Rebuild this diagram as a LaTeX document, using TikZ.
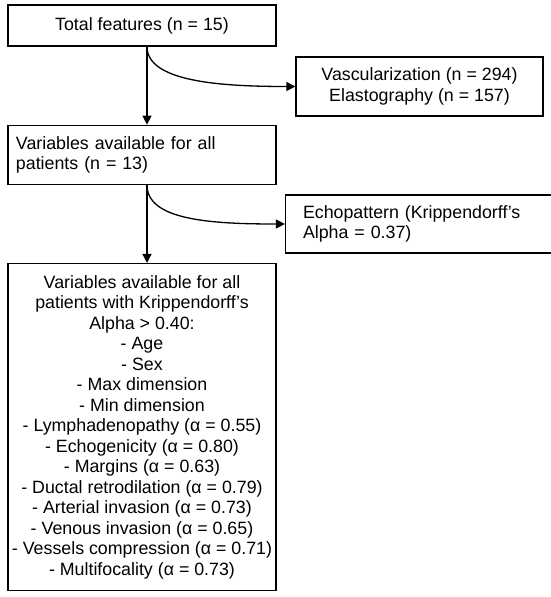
\documentclass[tikz,border=0pt]{standalone}
\usepackage{fontspec}
\setmainfont{Liberation Sans}
\usetikzlibrary{positioning,arrows.meta}
\hyphenpenalty=10000
\tikzset{
	caja/.style={rectangle, draw=black, line width=1.3pt, fill=white,
		font=\fontsize{17.8}{20.5}\selectfont, minimum width=268pt, align=center, inner xsep=2pt},
	cajaizq/.style={caja, text width=252pt, inner xsep=8pt, align=left},
	cajaexc/.style={caja, minimum width=247pt},
	cajaexcizq/.style={caja, text width=233pt, inner xsep=7pt, align=left},
	flecha/.style={-{Triangle[length=9pt,width=9pt]}, line width=1.3pt}
}

\begin{document}
\begin{tikzpicture}[x=1pt, y=1pt]
			\useasboundingbox (0,0) rectangle (550,-597);
			
			\node[caja, minimum height=41pt] (total) at (142,-25.5) {Total features (n = 15)};
			\node[cajaizq, minimum height=59pt, below=78pt of total] (avail) {Variables available for all\\patients (n = 13)};
			\node[caja, minimum height=327pt, below=78pt of avail] (final) {Variables available for all\\patients with Krippendorff’s\\Alpha > 0.40:\\- Age\\- Sex\\- Max dimension\\- Min dimension\\- Lymphadenopathy (α = 0.55)\\- Echogenicity (α = 0.80)\\- Margins (α = 0.63)\\- Ductal retrodilation (α = 0.79)\\- Arterial invasion (α = 0.73)\\- Venous invasion (α = 0.65)\\- Vessels compression (α = 0.71)\\- Multifocality (α = 0.73)};
			
			\node[cajaexc, minimum height=59pt] (vasc) at (419.5,-86.5) {Vascularization (n = 294)\\Elastography (n = 157)};
			\node[cajaexcizq, minimum height=58pt] (echo) at (419.5,-224) {Echopattern (Krippendorff’s\\Alpha = 0.37)};
			
			\draw[flecha] ([xshift=5pt]total.south) -- ([xshift=5pt]avail.north);
			\draw[flecha] ([xshift=5pt]avail.south) -- ([xshift=5pt]final.north);
			\draw[flecha] ([xshift=5pt]total.south) .. controls +(0,-35) and +(-75,0) .. (vasc.west);
			\draw[flecha] ([xshift=5pt]avail.south) .. controls +(0,-35) and +(-75,0) .. (echo.west);
\end{tikzpicture}
\end{document}
